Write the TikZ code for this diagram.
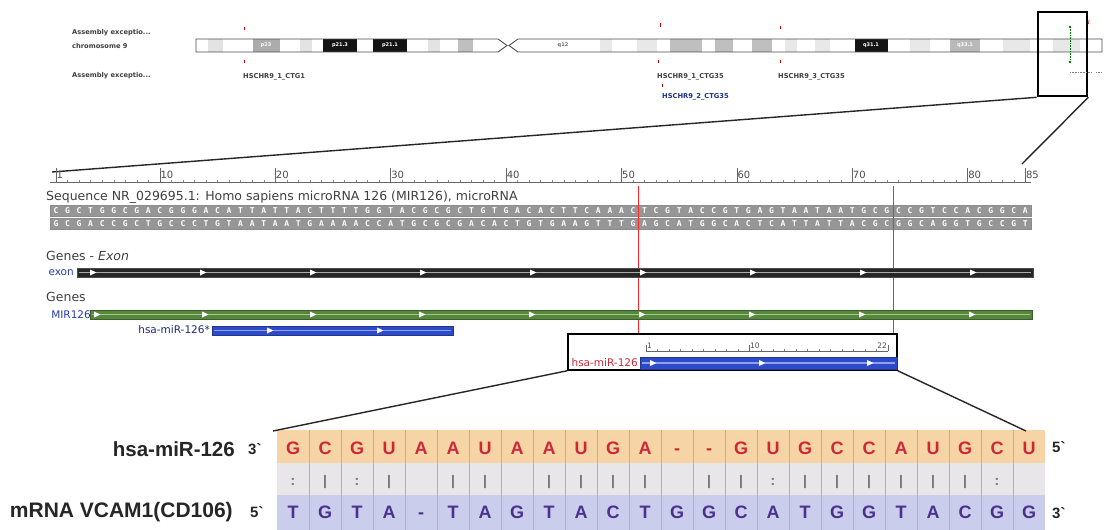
\documentclass[tikz,border=0pt]{standalone}
\usepackage{fontspec}
\setmainfont{DejaVu Sans}
\newfontfamily\arb{Liberation Sans}
\newfontfamily\dvs{DejaVu Sans}
\newfontfamily\dvm{DejaVu Sans Mono}
\definecolor{mirred}{RGB}{205,40,55}
\definecolor{mrnablue}{RGB}{75,50,140}
\definecolor{bandor}{RGB}{246,212,165}
\definecolor{bandgr}{RGB}{232,230,232}
\definecolor{bandbl}{RGB}{202,205,235}
\definecolor{genegreen}{RGB}{85,135,60}
\definecolor{genelight}{RGB}{165,200,135}
\definecolor{mirblue}{RGB}{45,75,200}
\definecolor{mirlight}{RGB}{140,160,235}
\definecolor{labblue}{RGB}{40,60,170}
\definecolor{seqgray}{RGB}{150,150,150}
\begin{document}
\begin{tikzpicture}[x=1pt,y=-1pt,
  tiny/.style={font=\dvs\bfseries\fontsize{6.7}{6.7}\selectfont, inner sep=0pt, text=black!75, anchor=west},
  bandlab/.style={font=\dvs\bfseries\fontsize{5}{5}\selectfont, inner sep=0pt, text=white},
  uitext/.style={font=\dvs\fontsize{12.5}{12.5}\selectfont, inner sep=0pt, text=black!75, anchor=west},
  rulab/.style={font=\dvs\fontsize{10}{10}\selectfont, inner sep=0pt, text=black!70, anchor=south west},
  seql/.style={font=\dvm\bfseries\fontsize{8}{8}\selectfont, inner sep=0pt, text=white},
  trk/.style={font=\dvs\fontsize{10.5}{10.5}\selectfont, inner sep=0pt, anchor=east},
  big/.style={font=\arb\bfseries\fontsize{21}{21}\selectfont, inner sep=0pt, text=black!85, anchor=east},
  prime/.style={font=\arb\bfseries\fontsize{15}{15}\selectfont, inner sep=0pt, text=black!85, anchor=west},
  nt/.style={font=\arb\bfseries\fontsize{18}{18}\selectfont, inner sep=0pt, text height=13, text depth=0pt},
  pairmark/.style={font=\arb\bfseries\fontsize{14}{14}\selectfont, inner sep=0pt, text=black!55, text height=10, text depth=0pt},
  conn/.style={draw=black!85, line width=1.4},
  tri/.pic={\fill[white] (-3,-3) -- (3.5,0) -- (-3,3) -- cycle;}
]
\useasboundingbox (0,0) rectangle (1109,530);
\fill[white] (0,0) rectangle (1109,530);

% ---------------- chromosome ideogram ----------------
\node[tiny] (ae1) at (72,33) {Assembly exceptio...};
\node[tiny] (chr) at (72,46) {chromosome 9};
\node[tiny] (ae2) at (72,76) {Assembly exceptio...};

\begin{scope}
\path[clip] (196,39) -- (498,39) -- (507,45.5) -- (498,52) -- (196,52) -- cycle
            (518,39) -- (1102,39) -- (1102,52) -- (518,52) -- (509,45.5) -- cycle;
\fill[white] (196,39) rectangle (1102,52);
\foreach \a/\b/\c in {208/223/gray!22, 253/280/gray!65, 300/312/gray!22, 323/357/black!92,
  373/407/black!92, 428/440/gray!22, 458/473/gray!50,
  600/612/gray!18, 637/657/gray!18, 670/702/gray!50, 715/733/gray!50, 752/772/gray!50,
  785/797/gray!18, 815/830/gray!18, 855/888/black!92, 910/930/gray!18, 950/980/gray!55,
  1003/1030/gray!18, 1053/1080/gray!18}
  \fill[\c] (\a,39) rectangle (\b,52);
\end{scope}
\draw[black!70, line width=0.9] (196,39) -- (498,39) -- (507,45.5) -- (498,52) -- (196,52) -- cycle;
\draw[black!70, line width=0.9] (518,39) -- (1102,39) -- (1102,52) -- (518,52) -- (509,45.5) -- cycle;
\node[bandlab] (bp23) at (266,45.5) {p23};
\node[bandlab] (bp213) at (340,45.5) {p21.3};
\node[bandlab] (bp211) at (390,45.5) {p21.1};
\node[bandlab, text=black!60] (bq12) at (563,45.5) {q12};
\node[bandlab] (bq311) at (871,45.5) {q31.1};
\node[bandlab] (bq331) at (965,45.5) {q33.1};

% red markers
\foreach \x/\ya/\yb in {244/27/30, 244/60/63, 660/23/27, 658/60/63, 780/26/29, 780/60/63, 662/84/87}
  \draw[red!80!black, line width=0.8] (\x,\ya) -- (\x,\yb);
\node[tiny] (ctg1) at (243,76.5) {HSCHR9\_1\_CTG1};
\node[tiny] (ctg35a) at (657,77) {HSCHR9\_1\_CTG35};
\node[tiny] (ctg35c) at (778,77) {HSCHR9\_3\_CTG35};
\node[tiny, text=labblue!80!black] (ctg35b) at (662,97) {HSCHR9\_2\_CTG35};

% zoom box
\node[draw=black, line width=2.6, minimum width=49, minimum height=84, inner sep=0pt] (zoombox) at (1062.5,54) {};
\draw[green!50!black, densely dotted, line width=0.6] (1070,27) -- (1070,62);
\fill[green!45!black] (1070,27) circle (1.3) (1070,62) circle (1.3);
\draw[red!80!black, line width=0.6] (1089,20) -- (1088.5,24);
\draw[gray, densely dotted, line width=0.6] (1070,72) -- (1092,72) (1096,72) -- (1101,72);

% ---------------- sequence ruler ----------------
\coordinate (r1) at (52,172);
\coordinate (r85) at (1022,164);
\draw[conn] (zoombox.south west) -- (r1);
\draw[conn] (zoombox.south east) -- (r85);
\draw[black!60, line width=0.7] (50,182) -- (1031,182);
\foreach \n in {1,...,85} \draw[black!45, line width=0.4] ({56+(\n-1)*11.54},179.5) -- ({56+(\n-1)*11.54},182);
\foreach \n in {1,10,20,30,40,50,60,70,80,85} {
  \draw[black!60, line width=0.5] ({56+(\n-1)*11.54},168) -- ({56+(\n-1)*11.54},182);
  \node[rulab] (rl\n) at ({56.5+(\n-1)*11.54},179) {\n};
}

\node[uitext] (seqtitle) at (46,197) {Sequence NR\_029695.1: Homo sapiens microRNA 126 (MIR126), microRNA};
\draw[black!45, fill=seqgray] (50,205) rectangle (1031,216);
\draw[black!45, fill=seqgray] (50,218) rectangle (1031,229);
\foreach \c [count=\i] in {C,G,C,T,G,G,C,G,A,C,G,G,G,A,C,A,T,T,A,T,T,A,C,T,T,T,T,G,G,T,A,C,G,C,G,C,T,G,T,G,A,C,A,C,T,T,C,A,A,A,C,T,C,G,T,A,C,C,G,T,G,A,G,T,A,A,T,A,A,T,G,C,G,C,C,G,T,C,C,A,C,G,G,C,A}
  \node[seql] (sa\i) at ({56+(\i-1)*11.54},210.5) {\c};
\foreach \c [count=\i] in {G,C,G,A,C,C,G,C,T,G,C,C,C,T,G,T,A,A,T,A,A,T,G,A,A,A,A,C,C,A,T,G,C,G,C,G,A,C,A,C,T,G,T,G,A,A,G,T,T,T,G,A,G,C,A,T,G,G,C,A,C,T,C,A,T,T,A,T,T,A,C,G,C,G,G,C,A,G,G,T,G,C,C,G,T}
  \node[seql] (sb\i) at ({56+(\i-1)*11.54},223.5) {\c};

% red guide lines
\draw[red!85, line width=0.7] (638,186) -- (638,334);
\draw[red!85, line width=0.7] (893,186) -- (893,334);

% ---------------- tracks ----------------
\node[uitext] (gex) at (46,256) {Genes - \textit{Exon}};
\node[trk, text=labblue] (exl) at (74,273) {exon};
\draw[black!70, fill=black!85] (77,268) rectangle (1033,277);
\draw[gray!65, line width=1.6] (79,272.5) -- (1031,272.5);
\foreach \x in {93,203,313,423,533,643,753,863,973} \pic at (\x,272.5) {tri};

\node[uitext] (genes) at (46,297) {Genes};
\node[trk, text=labblue] (mirl) at (91,315) {MIR126};
\draw[genegreen!70!black, fill=genegreen] (90,310) rectangle (1032,319);
\draw[genelight, line width=1.6] (92,314.5) -- (1030,314.5);
\foreach \x in {97,205,313,422,532,642,752,862,972} \pic at (\x,314.5) {tri};

\node[trk, text=labblue!70!black] (star) at (210,330) {hsa-miR-126*};
\draw[mirblue!70!black, fill=mirblue] (212,326) rectangle (453,335);
\draw[mirlight, line width=1.6] (214,330.5) -- (451,330.5);
\foreach \x in {270,380} \pic at (\x,330.5) {tri};

% ---------------- mature miRNA box ----------------
\node[draw=black, line width=1.5, minimum width=329, minimum height=36, inner sep=0pt] (mirbox) at (732.5,352) {};
\node[trk, text=mirred] (mbl) at (638,363) {hsa-miR-126};
\draw[mirblue!70!black, fill=mirblue] (640,357) rectangle (897,369);
\draw[mirlight, line width=1.6] (642,363) -- (895,363);
\foreach \x in {653,762,870} \pic at (\x,363) {tri};
\draw[black!60, line width=0.5] (646,351) -- (888,351);
\foreach \k in {1,...,22} \draw[black!50, line width=0.4] ({646+(\k-1)*11.52},349) -- ({646+(\k-1)*11.52},351);
\foreach \k in {1,10,22} {
  \draw[black!60, line width=0.5] ({646+(\k-1)*11.52},345) -- ({646+(\k-1)*11.52},351);
}
\node[font=\dvs\fontsize{7.5}{7.5}\selectfont, inner sep=0pt, text=black!70, anchor=south west] (m1) at (647,349) {1};
\node[font=\dvs\fontsize{7.5}{7.5}\selectfont, inner sep=0pt, text=black!70, anchor=south west] (m10) at (750,349) {10};
\node[font=\dvs\fontsize{7.5}{7.5}\selectfont, inner sep=0pt, text=black!70, anchor=south east] (m22) at (887,349) {22};

% ---------------- alignment ----------------
\fill[bandor] (277,430) rectangle (1045,463);
\fill[bandgr] (277,463) rectangle (1045,495);
\fill[bandbl] (277,495) rectangle (1045,530);
\foreach \k in {1,...,23} \draw[black!30, line width=0.6] ({277+32*\k},430) -- ({277+32*\k},530);

\coordinate (gl) at (273,431);
\coordinate (gr) at (1026,431);
\draw[conn] (mirbox.south west) -- (gl);
\draw[conn] (mirbox.south east) -- (gr);

\foreach \a/\m/\b [count=\i] in {G/:/T,C/|/G,G/:/T,U/|/A,A/ /-,A/|/T,U/|/A,A/ /G,A/|/T,U/|/A,G/|/C,A/|/T,-/ /G,-/|/G,G/|/C,U/:/A,G/|/T,C/|/G,C/|/G,A/|/T,U/|/A,G/|/C,C/:/G,U/ /G} {
  \node[nt, text=mirred] (mi\i) at ({293+32*(\i-1)},448) {\a};
  \node[pairmark] (pm\i) at ({293+32*(\i-1)},480) {\m};
  \node[nt, text=mrnablue] (mr\i) at ({293+32*(\i-1)},512) {\b};
}

\node[big, font=\arb\bfseries\fontsize{20.5}{20.5}\selectfont] (mirlab) at (235,449) {hsa-miR-126};
\node[prime] (p3a) at (248,449) {3`};
\node[big] (mrnalab) at (233,512) {mRNA VCAM1(CD106)};
\node[prime] (p5a) at (250,512) {5`};
\node[prime] (p5b) at (1052,447) {5`};
\node[prime] (p3b) at (1052,513) {3`};
\end{tikzpicture}
\end{document}
